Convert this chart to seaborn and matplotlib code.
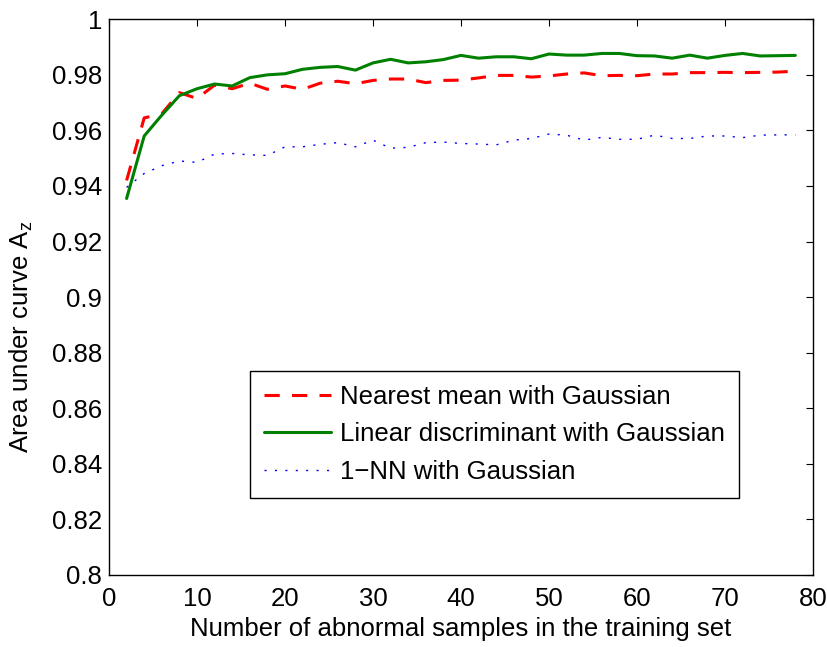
import numpy as np
import pandas as pd
import matplotlib
matplotlib.use("Agg")
import matplotlib.pyplot as plt
import seaborn as sns

# Training set sizes (number of abnormal samples)
n_samples = list(range(2, 80, 2))

# Area under ROC curve per classifier
nearest_mean = [0.942, 0.9645, 0.966, 0.9736, 0.9715, 0.9763, 0.975, 0.977, 0.9748, 0.976,
                0.9748, 0.977, 0.9777, 0.9768, 0.978, 0.9785, 0.9785, 0.9772, 0.978, 0.9781,
                0.9789, 0.9798, 0.9798, 0.9792, 0.9796, 0.9803, 0.9807, 0.9797, 0.9798, 0.9797,
                0.9803, 0.9803, 0.9808, 0.9808, 0.9809, 0.9808, 0.9809, 0.981, 0.9813]
linear_disc = [0.9355, 0.958, 0.9655, 0.9725, 0.975, 0.9767, 0.976, 0.979, 0.980, 0.9804,
               0.982, 0.9827, 0.983, 0.9817, 0.9843, 0.9856, 0.9843, 0.9847, 0.9855, 0.987,
               0.986, 0.9865, 0.9865, 0.9858, 0.9875, 0.9871, 0.9871, 0.9877, 0.9877, 0.9869,
               0.9868, 0.986, 0.9871, 0.986, 0.987, 0.9877, 0.9868, 0.9869, 0.987]
one_nn = [0.9395, 0.9445, 0.9473, 0.949, 0.9485, 0.9515, 0.9517, 0.9512, 0.951, 0.9541,
          0.9541, 0.955, 0.9556, 0.9541, 0.9565, 0.9536, 0.9539, 0.9556, 0.9558, 0.9553,
          0.9551, 0.9548, 0.9565, 0.9571, 0.9587, 0.9583, 0.9565, 0.9575, 0.9568, 0.9568,
          0.9583, 0.9571, 0.9571, 0.958, 0.958, 0.9574, 0.9583, 0.9584, 0.9584]

labels = ["Nearest mean with Gaussian", "Linear discriminant with Gaussian", "1\u2212NN with Gaussian"]

df = pd.DataFrame({"n": n_samples, labels[0]: nearest_mean,
                   labels[1]: linear_disc, labels[2]: one_nn})

sns.set_style("white")
plt.rcParams["font.family"] = ["Liberation Sans", "DejaVu Sans"]
plt.rcParams["mathtext.fontset"] = "custom"
plt.rcParams["mathtext.rm"] = "Liberation Sans"
plt.rcParams["text.color"] = "black"
plt.rcParams["axes.labelcolor"] = "black"

fs = 18.5

fig = plt.figure(figsize=(8.27, 6.47), dpi=100)
ax = fig.add_axes([0.1318, 0.1113, 0.8512, 0.8589])

sns.lineplot(data=df, x="n", y=labels[0], ax=ax, color="red", lw=2.2, label=labels[0])
sns.lineplot(data=df, x="n", y=labels[1], ax=ax, color="green", lw=2.2, label=labels[1])
sns.lineplot(data=df, x="n", y=labels[2], ax=ax, color="blue", lw=1.0, label=labels[2])
ax.lines[0].set_linestyle((0, (5.0, 4.0)))
ax.lines[2].set_linestyle((0, (1.5, 6.0)))

ax.set_xlim(0, 80)
ax.set_ylim(0.8, 1.0)
ax.set_xticks(range(0, 81, 10))
ax.set_yticks(np.arange(0.8, 1.001, 0.02))
ax.set_yticklabels(["0.8", "0.82", "0.84", "0.86", "0.88", "0.9", "0.92", "0.94", "0.96", "0.98", "1"])
ax.tick_params(direction="in", length=5, width=0.8, top=True, right=True,
               labelsize=fs, colors="black", pad=5)
ax.tick_params(axis="x", pad=9)
for s in ax.spines.values():
    s.set_visible(True)
    s.set_color("black")
    s.set_linewidth(1.0)

ax.set_xlabel("Number of abnormal samples in the training set", fontsize=fs, labelpad=4)
ax.set_ylabel(r"Area under curve A$_\mathregular{z}$", fontsize=fs)
ax.yaxis.set_label_coords(-0.105, 0.428)

leg = ax.legend(loc="lower left", bbox_to_anchor=(0.2, 0.139), borderaxespad=0, fontsize=fs,
                frameon=True, fancybox=False, framealpha=1, edgecolor="black",
                handlelength=2.6, handletextpad=0.35, labelspacing=0.52, borderpad=0.55)
leg.get_frame().set_linewidth(1.0)
for t in leg.get_texts():
    t.set_color("black")

fig.savefig("out.png", dpi=100, facecolor="white")
